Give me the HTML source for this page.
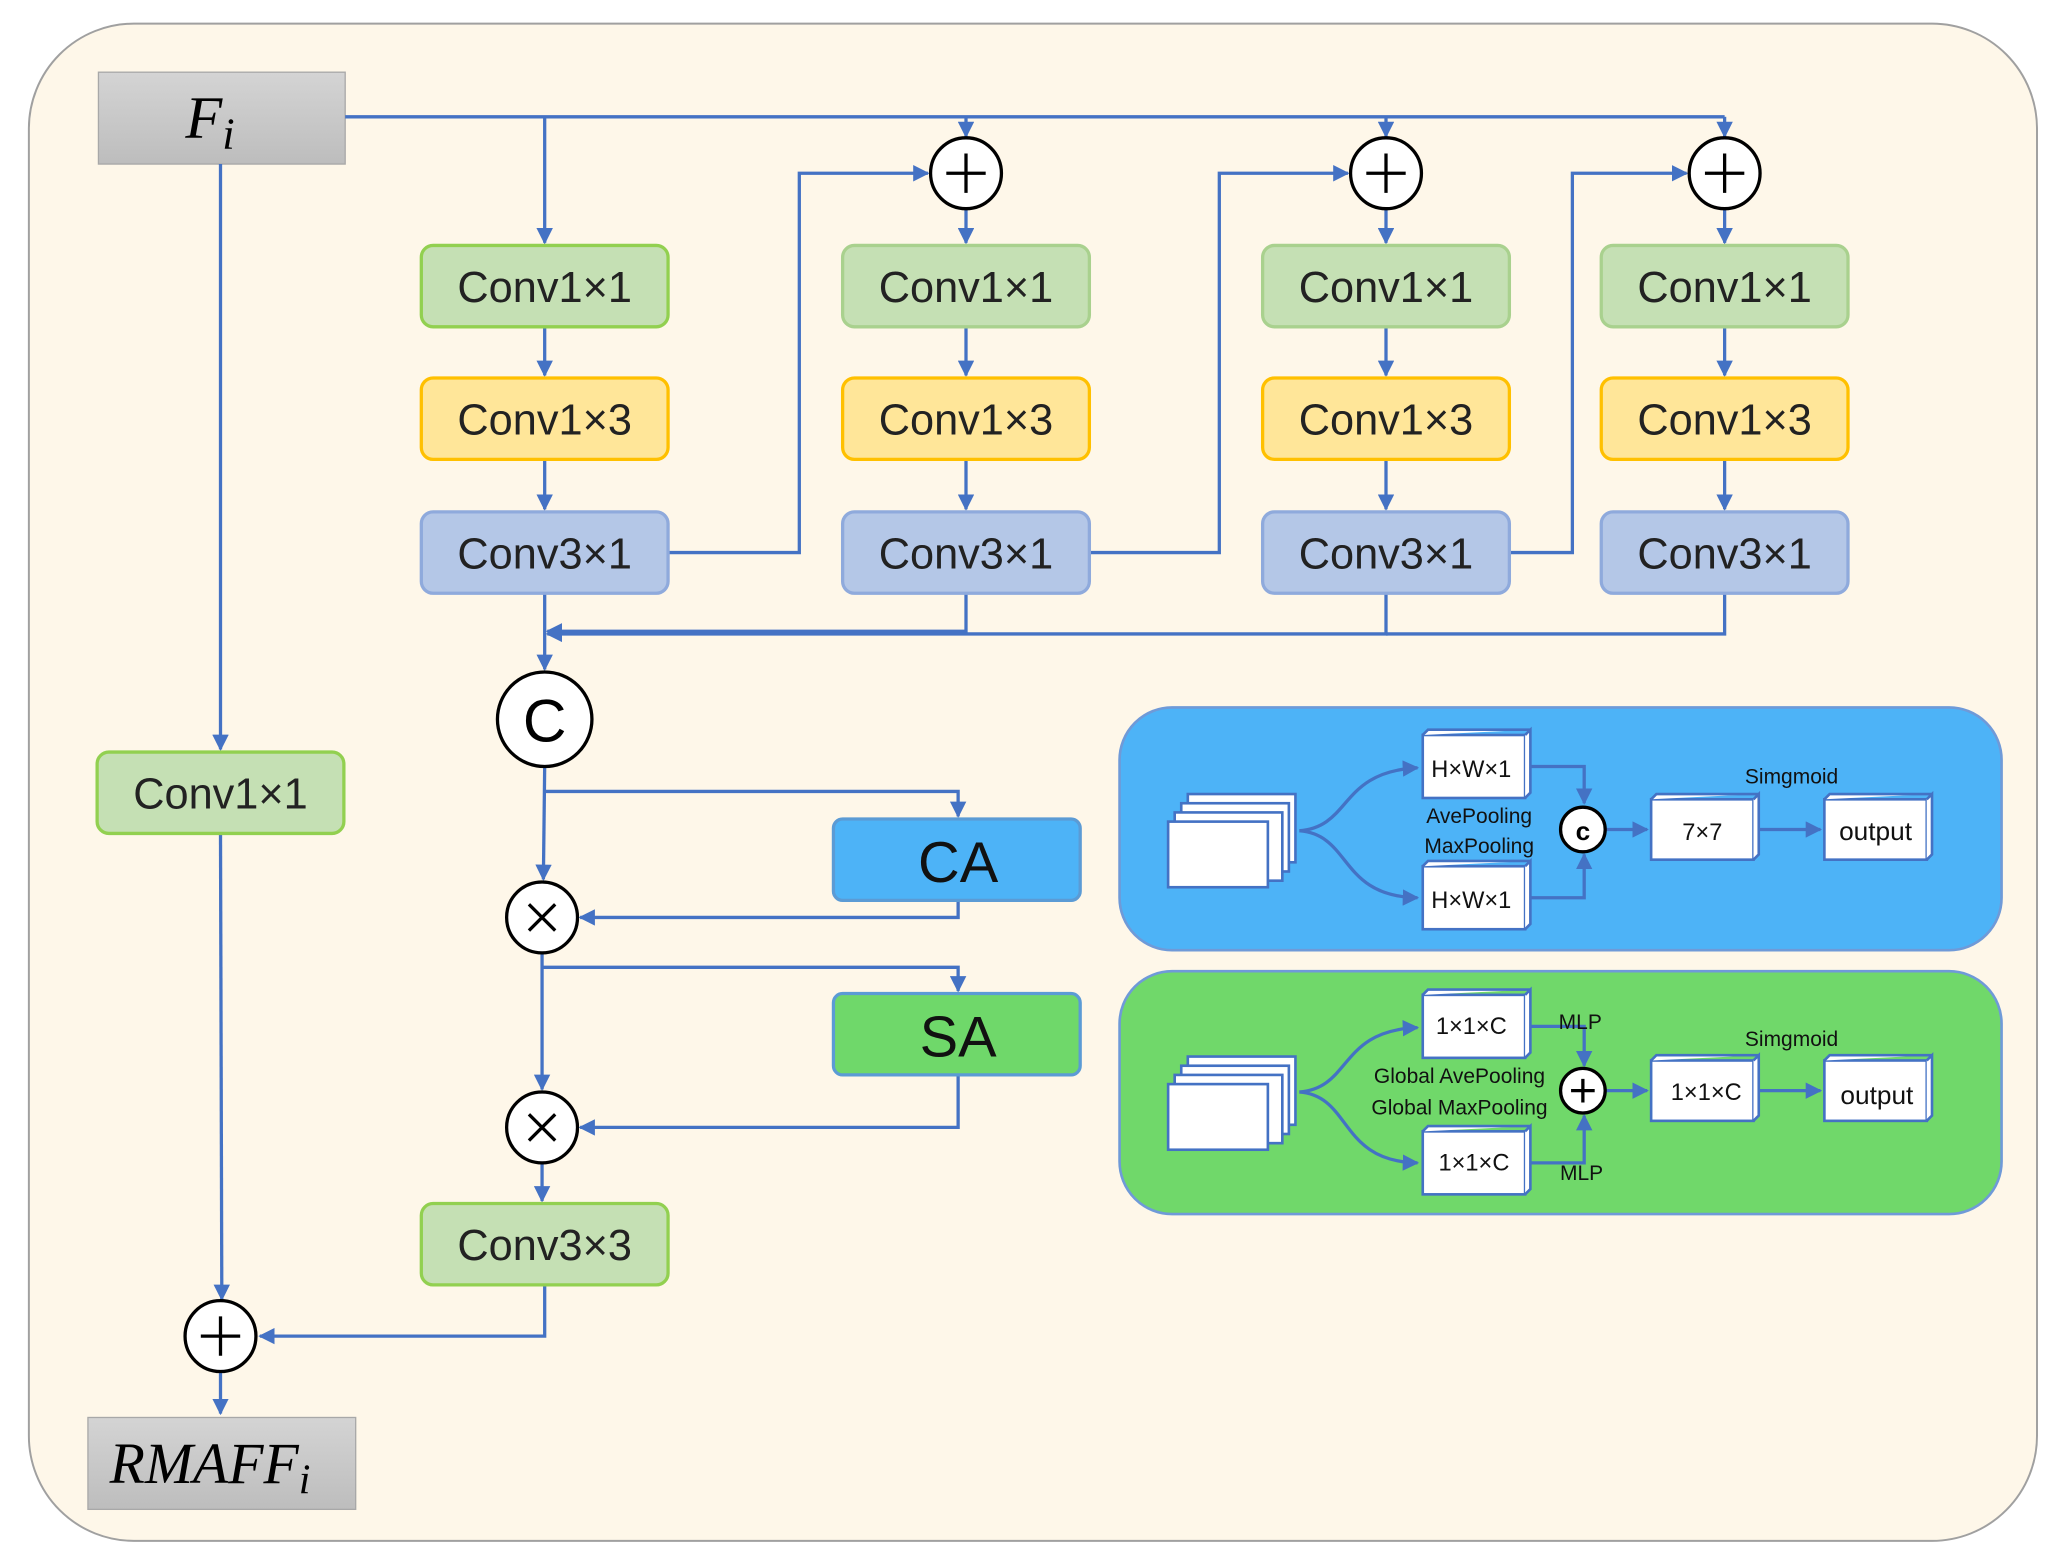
<!DOCTYPE html>
<html><head><meta charset="utf-8"><style>html,body{margin:0;padding:0;background:#fff}svg{display:block}</style></head><body>
<svg width="2058" height="1565" viewBox="0 0 1568 1192.4" preserveAspectRatio="none" xmlns="http://www.w3.org/2000/svg" font-family="Liberation Sans, DejaVu Sans, sans-serif">
<defs>
<marker id="a" viewBox="0 0 10 10" refX="9" refY="5" markerWidth="5" markerHeight="5" orient="auto"><path d="M0,0L10,5L0,10z" fill="#4472c4"/></marker>
<linearGradient id="g" x1="0" y1="0" x2="0" y2="1"><stop offset="0" stop-color="#d4d4d4"/><stop offset="1" stop-color="#bdbdbd"/></linearGradient>
</defs>
<rect x="22" y="18" width="1530" height="1156" rx="80" fill="#fef7e9" stroke="#a0a0a0" stroke-width="1.5"/>
<rect x="75" y="55" width="188" height="70" fill="url(#g)" stroke="#a8a8a8"/>
<text x="160" y="105" font-family="Liberation Serif, serif" font-style="italic" font-size="46" text-anchor="middle">F<tspan font-size="34" dy="8">i</tspan></text>
<rect x="67" y="1080" width="204" height="70" fill="url(#g)" stroke="#a8a8a8"/>
<text x="160" y="1130" font-family="Liberation Serif, serif" font-style="italic" font-size="44" text-anchor="middle">RMAFF<tspan font-size="32" dy="8">i</tspan></text>
<g fill="none" stroke="#4472c4" stroke-width="2.5">
<path d="M263,89H1314"/>
<path d="M415,89V185" marker-end="url(#a)"/>
<path d="M736,89V104" marker-end="url(#a)"/>
<path d="M1056,89V104" marker-end="url(#a)"/>
<path d="M1314,89V104" marker-end="url(#a)"/>
<path d="M736,159V185" marker-end="url(#a)"/><path d="M1056,159V185" marker-end="url(#a)"/><path d="M1314,159V185" marker-end="url(#a)"/>
<path d="M415,249V286" marker-end="url(#a)"/><path d="M736,249V286" marker-end="url(#a)"/><path d="M1056,249V286" marker-end="url(#a)"/><path d="M1314,249V286" marker-end="url(#a)"/>
<path d="M415,350V388" marker-end="url(#a)"/><path d="M736,350V388" marker-end="url(#a)"/><path d="M1056,350V388" marker-end="url(#a)"/><path d="M1314,350V388" marker-end="url(#a)"/>
<path d="M509,421H609V132H707" marker-end="url(#a)"/>
<path d="M829,421H929V132H1027" marker-end="url(#a)"/>
<path d="M1150,421H1198V132H1285" marker-end="url(#a)"/>
<path d="M736,452V481H417" marker-end="url(#a)"/>
<path d="M1056,452V483H417" marker-end="url(#a)"/>
<path d="M1314,452V483H1056"/>
<path d="M415,452V510" marker-end="url(#a)"/>
<path d="M415,584L414,670" marker-end="url(#a)"/>
<path d="M415,603H730V622" marker-end="url(#a)"/>
<path d="M730,686V699H442" marker-end="url(#a)"/>
<path d="M413,726V830" marker-end="url(#a)"/>
<path d="M413,737H730V755" marker-end="url(#a)"/>
<path d="M730,819V859H442" marker-end="url(#a)"/>
<path d="M413,886V915" marker-end="url(#a)"/>
<path d="M415,979V1018H198" marker-end="url(#a)"/>
<path d="M168,125V571" marker-end="url(#a)"/>
<path d="M168,635L169,990" marker-end="url(#a)"/>
<path d="M168,1045V1077" marker-end="url(#a)"/>
</g>
<g font-size="33" text-anchor="middle" fill="#222">
<g stroke-width="2.5">
<rect x="321" y="187" width="188" height="62" rx="9" fill="#c5e0b4" stroke="#92d050"/>
<rect x="642" y="187" width="188" height="62" rx="9" fill="#c5e0b4" stroke="#a9d18e"/>
<rect x="962" y="187" width="188" height="62" rx="9" fill="#c5e0b4" stroke="#a9d18e"/>
<rect x="1220" y="187" width="188" height="62" rx="9" fill="#c5e0b4" stroke="#a9d18e"/>
<rect x="321" y="288" width="188" height="62" rx="9" fill="#ffe699" stroke="#ffc000"/>
<rect x="642" y="288" width="188" height="62" rx="9" fill="#ffe699" stroke="#ffc000"/>
<rect x="962" y="288" width="188" height="62" rx="9" fill="#ffe699" stroke="#ffc000"/>
<rect x="1220" y="288" width="188" height="62" rx="9" fill="#ffe699" stroke="#ffc000"/>
<rect x="321" y="390" width="188" height="62" rx="9" fill="#b4c7e7" stroke="#8faadc"/>
<rect x="642" y="390" width="188" height="62" rx="9" fill="#b4c7e7" stroke="#8faadc"/>
<rect x="962" y="390" width="188" height="62" rx="9" fill="#b4c7e7" stroke="#8faadc"/>
<rect x="1220" y="390" width="188" height="62" rx="9" fill="#b4c7e7" stroke="#8faadc"/>
<rect x="74" y="573" width="188" height="62" rx="9" fill="#c5e0b4" stroke="#92d050"/>
<rect x="321" y="917" width="188" height="62" rx="9" fill="#c5e0b4" stroke="#92d050"/>
<rect x="635" y="624" width="188" height="62" rx="7" fill="#4db3f7" stroke="#5b9bd5"/>
<rect x="635" y="757" width="188" height="62" rx="7" fill="#6fd86a" stroke="#5b9bd5"/>
</g>
<text x="415" y="230">Conv1×1</text><text x="736" y="230">Conv1×1</text><text x="1056" y="230">Conv1×1</text><text x="1314" y="230">Conv1×1</text>
<text x="415" y="331">Conv1×3</text><text x="736" y="331">Conv1×3</text><text x="1056" y="331">Conv1×3</text><text x="1314" y="331">Conv1×3</text>
<text x="415" y="433">Conv3×1</text><text x="736" y="433">Conv3×1</text><text x="1056" y="433">Conv3×1</text><text x="1314" y="433">Conv3×1</text>
<text x="168" y="616">Conv1×1</text><text x="415" y="960">Conv3×3</text>
<text x="730" y="672" font-size="44" fill="#111">CA</text><text x="730" y="805" font-size="44" fill="#111">SA</text>
</g>
<g fill="#fff" stroke="#000" stroke-width="2.5">
<circle cx="736" cy="132" r="27"/><circle cx="1056" cy="132" r="27"/><circle cx="1314" cy="132" r="27"/>
<circle cx="168" cy="1018" r="27"/><circle cx="415" cy="548" r="36"/>
<circle cx="413" cy="699" r="27"/><circle cx="413" cy="859" r="27"/>
</g>
<g stroke="#000" stroke-width="2.5">
<path d="M721,132H751M736,117V147M1041,132H1071M1056,117V147M1299,132H1329M1314,117V147M153,1018H183M168,1003V1033"/>
<path d="M403,689L423,709M423,689L403,709M403,849L423,869M423,849L403,869"/>
</g>
<text x="415" y="565" font-size="46" text-anchor="middle">C</text>
<!-- panels -->
<rect x="853" y="539" width="672" height="185" rx="40" fill="#4db3f7" stroke="#6f9ad8" stroke-width="2"/>
<rect x="853" y="740" width="672" height="185" rx="40" fill="#70d86a" stroke="#6f9ad8" stroke-width="2"/>
<g id="p1">
<g fill="#fff" stroke="#4472c4" stroke-width="2">
<rect x="905" y="605" width="82" height="52"/><rect x="900" y="612" width="82" height="52"/><rect x="895" y="619" width="82" height="52"/><rect x="890" y="626" width="76" height="50"/>
<rect x="1084" y="560" width="78" height="48"/><path d="M1162,560l4,-4v48l-4,4M1084,560l4,-4h78"/>
<rect x="1084" y="660" width="78" height="48"/><path d="M1162,660l4,-4v48l-4,4M1084,660l4,-4h78"/>
<rect x="1258" y="609" width="78" height="46"/><path d="M1336,609l4,-4v46l-4,4M1258,609l4,-4h78"/>
<rect x="1390" y="609" width="78" height="46"/><path d="M1468,609l4,-4v46l-4,4M1390,609l4,-4h78"/>
</g>
<g fill="none" stroke="#4472c4" stroke-width="2.5">
<path d="M990,633C1030,630 1020,588 1080,585" marker-end="url(#a)"/>
<path d="M990,633C1030,636 1020,683 1080,684" marker-end="url(#a)"/>
<path d="M1166,584H1207V612" marker-end="url(#a)"/><path d="M1166,684H1207V651" marker-end="url(#a)"/>
<path d="M1224,632H1255" marker-end="url(#a)"/><path d="M1340,632H1387" marker-end="url(#a)"/>
</g>
<circle cx="1206" cy="632" r="17" fill="#fff" stroke="#000" stroke-width="2.5"/>
<text x="1206" y="640" font-size="20" font-weight="bold" text-anchor="middle">c</text>
<g font-size="18" text-anchor="middle" fill="#111">
<text x="1121" y="592">H×W×1</text><text x="1121" y="692">H×W×1</text>
<text x="1297" y="640">7×7</text><text x="1429" y="640" font-size="20">output</text>
<text x="1127" y="627" font-size="16">AvePooling</text><text x="1127" y="650" font-size="16">MaxPooling</text>
<text x="1365" y="597" font-size="16">Simgmoid</text>
</g>
</g>
<g>
<g fill="#fff" stroke="#4472c4" stroke-width="2">
<rect x="905" y="805" width="82" height="52"/><rect x="900" y="812" width="82" height="52"/><rect x="895" y="819" width="82" height="52"/><rect x="890" y="826" width="76" height="50"/>
<rect x="1084" y="758" width="78" height="48"/><path d="M1162,758l4,-4v48l-4,4M1084,758l4,-4h78"/>
<rect x="1084" y="862" width="78" height="48"/><path d="M1162,862l4,-4v48l-4,4M1084,862l4,-4h78"/>
<rect x="1258" y="808" width="78" height="46"/><path d="M1336,808l4,-4v46l-4,4M1258,808l4,-4h78"/>
<rect x="1390" y="808" width="78" height="46"/><path d="M1468,808l4,-4v46l-4,4M1390,808l4,-4h78"/>
</g>
<g fill="none" stroke="#4472c4" stroke-width="2.5">
<path d="M990,832C1030,829 1020,785 1080,783" marker-end="url(#a)"/>
<path d="M990,832C1030,835 1020,885 1080,886" marker-end="url(#a)"/>
<path d="M1166,782H1207V812" marker-end="url(#a)"/><path d="M1166,886H1207V850" marker-end="url(#a)"/>
<path d="M1224,831H1255" marker-end="url(#a)"/><path d="M1340,831H1387" marker-end="url(#a)"/>
</g>
<circle cx="1206" cy="831" r="17" fill="#fff" stroke="#000" stroke-width="2.5"/>
<path d="M1197,831H1215M1206,822V840" stroke="#000" stroke-width="2.5"/>
<g font-size="18" text-anchor="middle" fill="#111">
<text x="1121" y="788">1×1×C</text><text x="1123" y="892">1×1×C</text>
<text x="1300" y="838">1×1×C</text><text x="1430" y="841" font-size="20">output</text>
<text x="1112" y="825" font-size="16">Global AvePooling</text><text x="1112" y="849" font-size="16">Global MaxPooling</text>
<text x="1204" y="784" font-size="16">MLP</text><text x="1205" y="899" font-size="16">MLP</text>
<text x="1365" y="797" font-size="16">Simgmoid</text>
</g>
</g>
</svg>
</body></html>
